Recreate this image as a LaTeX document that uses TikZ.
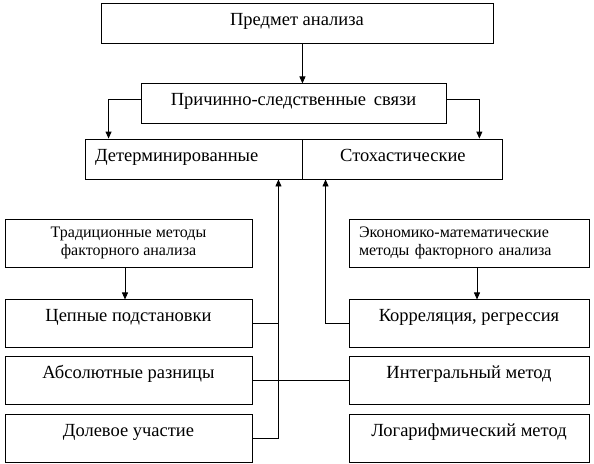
\documentclass[tikz,border=0pt]{standalone}
\usepackage{fontspec}
\setmainfont{Liberation Serif}
\usetikzlibrary{arrows.meta, positioning}

\begin{document}
\begin{tikzpicture}[x=1pt, y=-1pt,
      node distance=8pt,
      box/.style={draw, line width=0.9pt, fill=white, inner sep=0pt, minimum height=40pt,
                  font=\fontsize{18.5}{21}\selectfont, text height=12pt, text depth=8pt},
      low/.style={box, minimum height=48pt, text depth=17pt},
      note/.style={draw, line width=0.9pt, fill=white, inner sep=0pt, minimum height=48pt,
                   font=\fontsize{16}{18}\selectfont, align=center},
      arr/.style={-{Triangle[length=7pt, width=6pt]}, line width=0.9pt}]
    \useasboundingbox (0,0) rectangle (594,463);

    \node[box, minimum width=392pt] (subj) at (297,23) {Предмет анализа};
    \node[box, minimum width=305pt, below=40pt of subj, xshift=-3.5pt] (links) {Причинно-следственные\, связи};
    \node[box, minimum width=217pt, text width=197pt, align=left] (det) at (193.5,159) {Детерминированные};
    \node[box, minimum width=200pt, right=0pt of det] (sto) {Стохастические};

    \node[note, minimum width=247pt] (trad) at (128.5,243) {Традиционные методы\\факторного анализа};
    \node[low, minimum width=247pt, below=32pt of trad] (chain) {Цепные подстановки};
    \node[low, minimum width=247pt, below=of chain] (absd) {Абсолютные разницы};
    \node[low, minimum width=247pt, below=9pt of absd] (share) {Долевое участие};

    \node[note, minimum width=240pt, text width=220pt, align=left] (econ) at (469,243) {Экономико-математические\\методы факторного анализа};
    \node[low, minimum width=240pt, below=32pt of econ] (corr) {Корреляция, регрессия};
    \node[low, minimum width=240pt, below=of corr] (integ) {Интегральный метод};
    \node[low, minimum width=240pt, below=9pt of integ] (logm) {Логарифмический метод};

    \draw[arr] (subj.south -| det.east) -- (links.north -| det.east);
    \draw[arr] ([yshift=4pt]links.west) -| ([xshift=24pt]det.north west);
    \draw[arr] ([yshift=4pt]links.east) -| ([xshift=-24pt]sto.north east);

    \draw[arr] ([xshift=-3.5pt]trad.south) -- ([xshift=-3.5pt]chain.north);
    \draw[arr] ([xshift=8pt]econ.south) -- ([xshift=8pt]corr.north);

    \coordinate (lbus) at ([xshift=26pt]share.east);
    \draw[arr] (share.east) -- (lbus) -- (lbus |- det.south);
    \draw[line width=0.9pt] (chain.east) -- (chain.east -| lbus);
    \coordinate (rbus) at ([xshift=-23pt]corr.west);
    \draw[arr] (corr.west) -- (rbus) -- (rbus |- sto.south);
    \draw[line width=0.9pt] (absd) -- (integ);
\end{tikzpicture}
\end{document}
